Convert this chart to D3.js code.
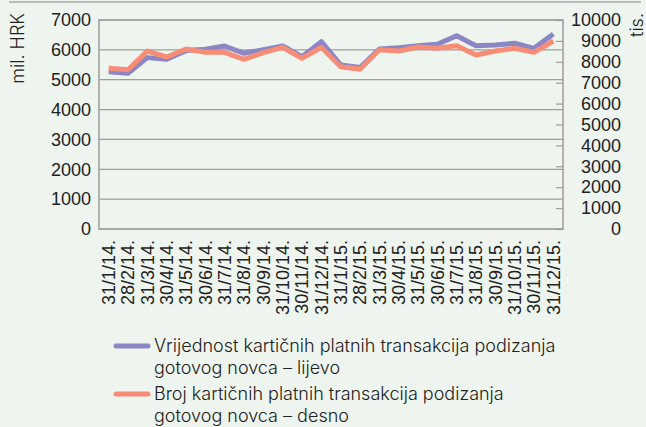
<!DOCTYPE html>
<html>
<head>
<meta charset="utf-8">
<script src="https://cdn.jsdelivr.net/npm/d3@7"></script>
<style>
  body { margin: 0; background: #eef4ee; }
  svg { display: block; font-family: Inter, "Liberation Sans", Arial, sans-serif; font-weight: 300; }
  .tick text { fill: #222; }
</style>
</head>
<body>
<svg width="646" height="427"></svg>
<script>
// dates (end of month)
const months = ["31/1/14.", "28/2/14.", "31/3/14.", "30/4/14.", "31/5/14.", "30/6/14.",
    "31/7/14.", "31/8/14.", "30/9/14.", "31/10/14.", "30/11/14.", "31/12/14.",
    "31/1/15.", "28/2/15.", "31/3/15.", "30/4/15.", "31/5/15.", "30/6/15.",
    "31/7/15.", "31/8/15.", "30/9/15.", "31/10/15.", "30/11/15.", "31/12/15."]

// value, mil. HRK (left)
const valueLeft = [5270, 5215, 5740, 5685, 5975, 6020, 6130, 5885, 6005, 6130, 5770, 6275,
    5495, 5410, 6030, 6070, 6140, 6185, 6475, 6140, 6165, 6220, 6050, 6530]

// number, tis. (right)
const countRight = [7690, 7620, 8515, 8230, 8610, 8455, 8455, 8120, 8440, 8695, 8165, 8695,
    7765, 7640, 8580, 8515, 8710, 8645, 8770, 8325, 8515, 8645, 8455, 8995]

const leftTicks = [0, 1000, 2000, 3000, 4000, 5000, 6000, 7000]
const rightTicks = [0, 1000, 2000, 3000, 4000, 5000, 6000, 7000, 8000, 9000, 10000]

const legendNames = [
    ["Vrijednost kartičnih platnih transakcija podizanja", "gotovog novca – lijevo"],
    ["Broj kartičnih platnih transakcija podizanja", "gotovog novca – desno"]
]
const colors = ["#8b86c4", "#f78d76"]

const plotL = 99, plotR = 563, plotT = 20, plotB = 229
const gridColor = "#9d9d9d"
const fs = 18

const svg = d3.select("svg")

// top rule of the box
svg.append("line")
    .attr("x1", 9).attr("x2", 641).attr("y1", 2).attr("y2", 2)
    .attr("stroke", "#b9bcb9").attr("stroke-width", 2)

const xScale = d3.scaleBand().domain(months).range([plotL, plotR])
const yLeft = d3.scaleLinear().domain([0, 7000]).range([plotB, plotT])
const yRight = d3.scaleLinear().domain([0, 10000]).range([plotB, plotT])

// gridlines
svg.append("g")
    .selectAll("line")
    .data(leftTicks)
    .enter()
    .append("line")
    .attr("x1", plotL).attr("x2", plotR)
    .attr("y1", d => yLeft(d)).attr("y2", d => yLeft(d))
    .attr("stroke", gridColor).attr("stroke-width", 1.2)

// frame
svg.append("rect")
    .attr("x", plotL).attr("y", plotT)
    .attr("width", plotR - plotL).attr("height", plotB - plotT)
    .attr("fill", "none").attr("stroke", gridColor).attr("stroke-width", 1.5)

// left axis
const gl = svg.append("g")
    .attr("transform", "translate(" + plotL + ",0)")
    .call(d3.axisLeft(yLeft).tickValues(leftTicks).tickFormat(d3.format("d")).tickSize(0).tickPadding(8))
gl.select(".domain").remove()
gl.selectAll("text").attr("font-size", fs).attr("font-family", null)

// right axis, ticks pointing inward
const gr = svg.append("g")
    .attr("transform", "translate(" + plotR + ",0)")
    .call(d3.axisRight(yRight).tickValues(rightTicks).tickFormat(d3.format("d"))
        .tickSizeInner(-7).tickSizeOuter(0).tickPadding(0))
gr.select(".domain").remove()
gr.selectAll("line").attr("stroke", gridColor).attr("stroke-width", 1.2)
gr.selectAll("text")
    .attr("x", 58)
    .attr("text-anchor", "end")
    .attr("font-size", fs).attr("font-family", null)

// x labels
const gx = svg.append("g")
    .attr("transform", "translate(0," + plotB + ")")
    .call(d3.axisBottom(xScale).tickSize(0))
gx.select(".domain").remove()
gx.selectAll("text")
    .attr("font-size", fs).attr("font-family", null)
    .attr("text-anchor", "end")
    .attr("transform", "rotate(-90)")
    .attr("x", -11).attr("y", 0).attr("dy", "0.36em")

// axis titles
svg.append("text")
    .attr("transform", "translate(24,13) rotate(-90)")
    .attr("text-anchor", "end")
    .attr("font-size", fs).attr("fill", "#222")
    .text("mil. HRK")
svg.append("text")
    .attr("transform", "translate(643,13) rotate(-90)")
    .attr("text-anchor", "end")
    .attr("font-size", fs).attr("fill", "#222")
    .text("tis.")

// lines
const cx = d => xScale(d) + xScale.bandwidth() / 2
const lineLeft = d3.line().x((d, i) => cx(months[i])).y(d => yLeft(d))
const lineRight = d3.line().x((d, i) => cx(months[i])).y(d => yRight(d))

svg.append("path")
    .attr("d", lineLeft(valueLeft))
    .attr("fill", "none").attr("stroke", colors[0]).attr("stroke-width", 5)
    .attr("stroke-linejoin", "round")
svg.append("path")
    .attr("d", lineRight(countRight))
    .attr("fill", "none").attr("stroke", colors[1]).attr("stroke-width", 5)
    .attr("stroke-linejoin", "round")

// legend
const lg = svg.append("g")
    .selectAll("g")
    .data(legendNames)
    .enter()
    .append("g")
    .attr("transform", (d, i) => "translate(0," + (i * 48) + ")")

lg.append("line")
    .attr("x1", 116).attr("x2", 148).attr("y1", 346).attr("y2", 346)
    .attr("stroke", (d, i) => colors[i]).attr("stroke-width", 5)
    .attr("stroke-linecap", "round")

lg.append("text")
    .attr("x", 154).attr("y", 352)
    .attr("font-size", fs).attr("fill", "#222")
    .selectAll("tspan")
    .data(d => d)
    .enter()
    .append("tspan")
    .attr("x", 154)
    .attr("dy", (d, i) => i ? 22 : 0)
    .text(d => d)
</script>
</body>
</html>
